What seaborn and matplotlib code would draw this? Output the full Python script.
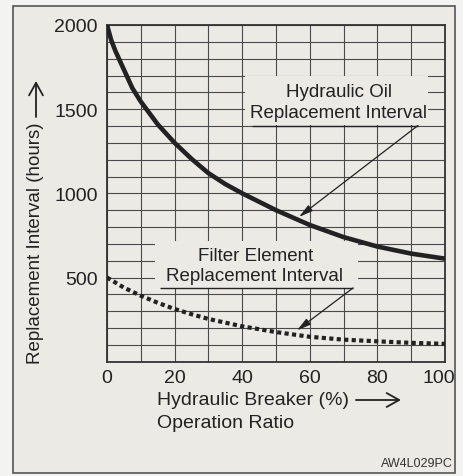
import matplotlib
matplotlib.use("Agg")
import matplotlib.pyplot as plt
import matplotlib.patches as mpatches
from matplotlib.transforms import ScaledTranslation
import numpy as np
import pandas as pd
import seaborn as sns

# Operation ratio of the hydraulic breaker (%) and replacement intervals (hours)
oil_ratio = [0, 1.25, 2.5, 5, 7.5, 10, 15, 20, 25, 30, 35, 40, 50, 60, 70, 80, 90, 100]
oil_hours = [2000, 1910, 1845, 1735, 1625, 1545, 1410, 1300, 1205, 1120, 1055, 1000,
             900, 812, 740, 684, 642, 612]

filter_ratio = [0, 5, 10, 15, 20, 25, 30, 40, 50, 60, 70, 80, 90, 100]
filter_hours = [500, 440, 392, 350, 313, 282, 254, 210, 176, 148, 131, 121, 112, 106]

x_ticks = [0, 20, 40, 60, 80, 100]
y_ticks = [500, 1000, 1500, 2000]

oil_df = pd.DataFrame({"ratio": oil_ratio, "hours": oil_hours})
filter_df = pd.DataFrame({"ratio": filter_ratio, "hours": filter_hours})

sns.set_theme(style="white")
plt.rcParams["font.family"] = ["Liberation Sans", "DejaVu Sans"]

paper = "#ebeae5"
ink = "#222222"
grid_c = "#4a4a4a"

W, H = 464, 477
fig = plt.figure(figsize=(W / 100, H / 100), dpi=100, facecolor="#f3f3f1")

# page frame
fig.patches.append(mpatches.Rectangle((13 / W, 1 - 474 / H), (455 - 13) / W, (474 - 7) / H,
                                      transform=fig.transFigure, facecolor=paper,
                                      edgecolor="#555555", lw=1.2, zorder=-5))

ax = fig.add_axes([107 / W, 1 - 362.7 / H, (445 - 107) / W, (362.7 - 26) / H])
ax.set_zorder(2)
ax.set_facecolor(paper)

sns.lineplot(data=oil_df, x="ratio", y="hours", ax=ax, color=ink, lw=3.3,
             solid_capstyle="butt", solid_joinstyle="round", zorder=3)
sns.lineplot(data=filter_df, x="ratio", y="hours", ax=ax, color=ink, lw=3.0,
             linestyle=(0, (1.0, 0.8)), dash_capstyle="butt", zorder=3)

ax.set_xlim(0, 100)
ax.set_ylim(0, 2000)
ax.set_xticks(x_ticks)
ax.set_xticks(np.arange(0, 101, 10), minor=True)
ax.set_yticks(y_ticks)
ax.set_yticks(np.arange(0, 2001, 100), minor=True)
ax.grid(True, which="both", color=grid_c, lw=0.8)
ax.set_axisbelow(True)
ax.tick_params(which="both", length=0)
ax.tick_params(axis="x", pad=5, labelsize=14, labelcolor=ink)
ax.tick_params(axis="y", pad=6.5, labelsize=14, labelcolor=ink)
ax.set_xlabel("")
ax.set_ylabel("")
for s in ax.spines.values():
    s.set_color("#333333")
    s.set_linewidth(1.3)

# keep the last x label inside the frame
last = ax.get_xticklabels()[-1]
last.set_transform(last.get_transform() + ScaledTranslation(-6 / 100, 0, fig.dpi_scale_trans))

# label boxes hiding the grid behind the text
ax.add_patch(mpatches.Rectangle((40.8, 1407), 95.0 - 40.8, 1698 - 1407,
                                facecolor=paper, edgecolor="none", zorder=1))
ax.add_patch(mpatches.Rectangle((14.2, 438), 74.3 - 14.2, 717 - 438,
                                facecolor=paper, edgecolor="none", zorder=1))

ax.text(68.5, 1603, "Hydraulic Oil", ha="center", va="center", fontsize=13.5, color=ink, zorder=4)
ax.text(68.5, 1483, "Replacement Interval", ha="center", va="center", fontsize=13.5, color=ink, zorder=4)
ax.text(44.0, 630, "Filter Element", ha="center", va="center", fontsize=13.5, color=ink, zorder=4)
ax.text(43.6, 511, "Replacement Interval", ha="center", va="center", fontsize=13.5, color=ink, zorder=4)

# leader underlines with arrows
head = "-|>,head_length=0.7,head_width=0.18"
ax.hlines(1403, 42.9, 92.0, color=ink, lw=1.0, zorder=4)
ax.annotate("", xy=(56.8, 860), xytext=(92.0, 1403),
            arrowprops=dict(arrowstyle=head, color=ink, lw=0.9, shrinkA=0, shrinkB=0), zorder=4)
ax.hlines(438, 15.7, 72.8, color=ink, lw=1.0, zorder=4)
ax.annotate("", xy=(56.2, 186), xytext=(72.8, 438),
            arrowprops=dict(arrowstyle=head, color=ink, lw=0.9, shrinkA=0, shrinkB=0), zorder=4)

# axis titles with direction arrows
def px(x, y):
    return (x / W, 1 - y / H)

open_head = "->,head_length=0.45,head_width=0.25"
fig.text(*px(36, 243), "Replacement Interval (hours)", rotation=90,
         ha="center", va="center", fontsize=13.5, color=ink)
fig.add_artist(mpatches.FancyArrowPatch(px(36, 118), px(36, 82), transform=fig.transFigure,
                                        arrowstyle=open_head, mutation_scale=20,
                                        color=ink, lw=1.3, shrinkA=0, shrinkB=0))
fig.text(*px(157, 401), "Hydraulic Breaker (%)", ha="left", va="center",
         fontsize=14, color=ink)
fig.add_artist(mpatches.FancyArrowPatch(px(356, 401), px(401, 401), transform=fig.transFigure,
                                        arrowstyle=open_head, mutation_scale=20,
                                        color=ink, lw=1.3, shrinkA=0, shrinkB=0))
fig.text(*px(157, 424), "Operation Ratio", ha="left", va="center",
         fontsize=14, color=ink)
fig.text(*px(453, 464), "AW4L029PC", ha="right", va="center",
         fontsize=9, color="#333333")

fig.savefig("out.png", dpi=100, facecolor=fig.get_facecolor())
